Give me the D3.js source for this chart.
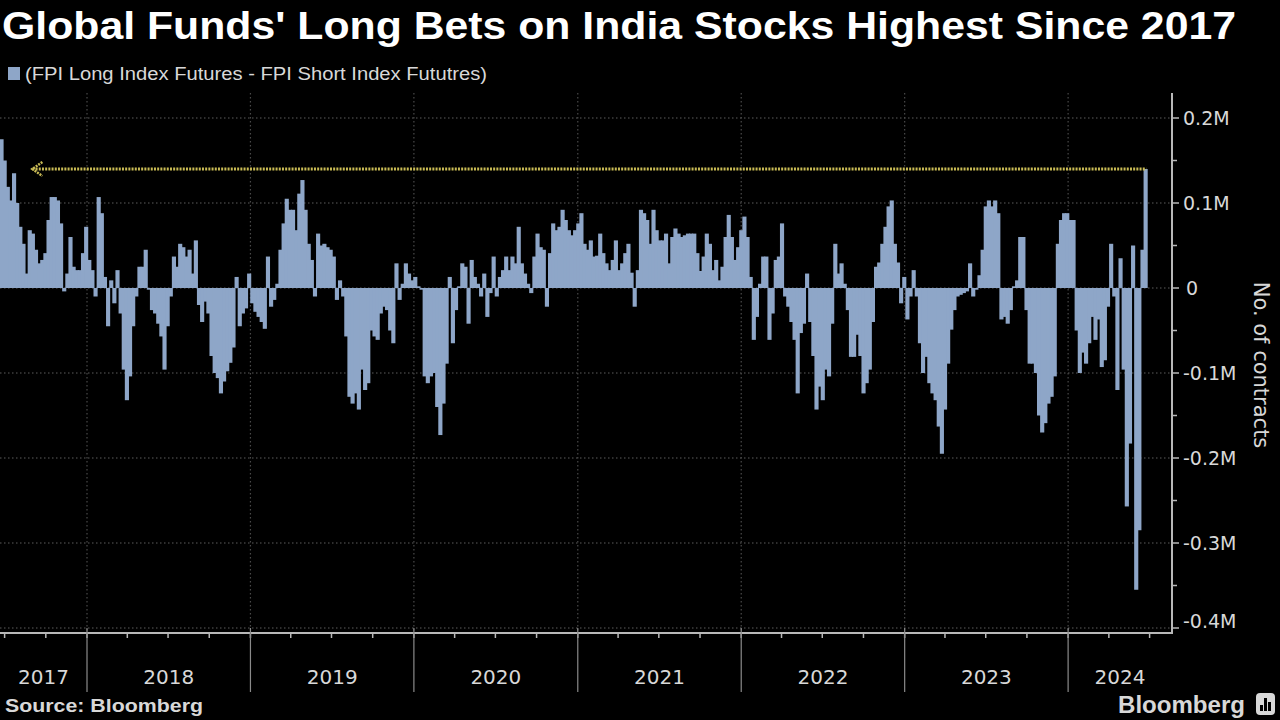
<!DOCTYPE html>
<html>
<head>
<meta charset="utf-8">
<script src="https://cdn.jsdelivr.net/npm/d3@7"></script>
<style>
  html, body { margin: 0; padding: 0; background: #000; }
  svg { display: block; }
</style>
</head>
<body>
<svg id="chart" width="1280" height="720"></svg>
<script>
// ---------------- DATA ----------------
const titleText = "Global Funds' Long Bets on India Stocks Highest Since 2017";
const legendText = "(FPI Long Index Futures - FPI Short Index Fututres)";
const sourceText = "Source: Bloomberg";
const axisTitle = "No. of contracts";
const firstWeek = "2017-06-23";          // weekly (Friday) observations start
const yearLabels = ["2017","2018","2019","2020","2021","2022","2023","2024"];
const yTickValues = [-400, -300, -200, -100, 0, 100, 200];   // thousands of contracts
const annotationStart = "2017-09-01";     // start of the "highest since" arrow
// Net FPI index futures position, thousands of contracts, one value per week
const netLong = [
  175,150,119,103,135,100,72,52,17,68,
  64,45,29,33,41,80,107,107,103,76,
  -4,17,60,25,21,21,41,72,33,21,
  -10,107,88,13,-45,9,-18,21,-30,-96,
  -132,-104,-45,-10,25,25,45,-2,-26,-30,
  -42,-57,-96,-45,-10,37,25,52,48,37,
  45,17,56,-20,
  -40,-16,-30,-80,-100,-106,-124,-110,-98,-88,
  -70,13,-45,-30,-24,17,-18,-28,-34,-40,
  -48,37,-22,-14,5,45,76,105,92,92,
  68,111,127,92,52,33,-10,64,50,52,
  48,45,37,-14,9,-10,-57,-128,-136,-124,
  -143,-96,-120,-112,-50,-57,-61,-30,-22,-26,
  -50,-65,
  29,-14,5,29,17,9,13,2,-2,-104,
  -112,-104,-100,-140,-173,-136,-89,13,-65,-26,
  2,29,25,-42,33,13,5,-10,17,-34,
  -6,37,-10,13,21,37,21,37,29,72,
  29,17,5,-6,37,64,48,45,-22,41,
  76,68,72,92,80,68,62,68,76,88,
  52,45,
  56,37,38,64,41,29,21,33,56,21,
  29,41,52,18,-22,21,92,88,80,52,
  92,68,56,56,64,29,60,70,64,60,
  62,64,64,64,41,20,37,64,52,21,
  33,9,25,60,86,60,33,48,68,84,
  60,13,-61,-34,5,37,37,-61,-30,33,
  37,76,
  -10,-22,-40,-61,-124,-53,-42,17,-40,-80,
  -143,-116,-132,-96,-104,-42,52,17,29,5,
  -26,-81,-81,-55,-80,-124,-112,-96,-40,25,
  30,52,72,96,103,52,30,-18,13,-37,
  -10,21,-10,-65,-100,-81,-112,-124,-132,-163,
  -195,-143,-89,-49,-26,-10,-8,-6,-4,29,
  -10,-2,15,
  45,96,103,96,103,88,-37,-34,-42,
  -26,2,9,60,60,-26,-89,-89,-100,-150,
  -170,-159,-136,-128,-104,52,80,88,88,80,
  80,-50,-100,-76,-89,-65,-34,-61,-37,-93,
  -85,-22,52,-10,-120,35,-96,-257,-183,50,
  -355,-285,45,140
];

// ---------------- LAYOUT ----------------
const W = 1280, H = 720;
const plotLeft = 0, plotRight = 1172, plotTop = 93, axisY = 633;
const barColor = "#8ea6c8";
const textColor = "#d8d8d8";
const annColor = "#c9bb55";

const svg = d3.select("#chart");
svg.append("rect").attr("width", W).attr("height", H).attr("fill", "#000");

const parse = d3.utcParse("%Y-%m-%d");
const start = parse(firstWeek);
const data = netLong.map((v, i) => ({ date: d3.utcDay.offset(start, 7 * i), value: v }));

const x = d3.scaleUtc()
  .domain([new Date(Date.UTC(2017, 5, 20, 17)), new Date(Date.UTC(2024, 7, 20))])
  .range([plotLeft, plotRight]);
const y = d3.scaleLinear().domain([-400, 200]).range([628, 118]);

// clip
svg.append("clipPath").attr("id", "plotclip")
  .append("rect").attr("x", plotLeft).attr("y", plotTop)
  .attr("width", plotRight - plotLeft - 1).attr("height", axisY - plotTop);

// gridlines
const grid = svg.append("g");
grid.selectAll("line.h").data(yTickValues).join("line")
  .attr("x1", plotLeft).attr("x2", plotRight - 2)
  .attr("y1", d => y(d)).attr("y2", d => y(d))
  .attr("stroke", "#5c5c5c").attr("stroke-width", 1.2).attr("stroke-dasharray", "1.5,2.5");
const yearStarts = yearLabels.slice(1).map(yr => new Date(Date.UTC(+yr, 0, 1)));
grid.selectAll("line.v").data(yearStarts).join("line")
  .attr("x1", d => x(d)).attr("x2", d => x(d))
  .attr("y1", plotTop).attr("y2", axisY)
  .attr("stroke", "#4a4a4a").attr("stroke-width", 1.2).attr("stroke-dasharray", "1.5,2.5");

// bars
const bw = x(d3.utcDay.offset(start, 7)) - x(start);
svg.append("g").attr("clip-path", "url(#plotclip)")
  .selectAll("rect").data(data).join("rect")
  .attr("x", d => x(d.date) - bw / 2)
  .attr("width", bw + 1)
  .attr("y", d => Math.min(y(d.value), y(0)))
  .attr("height", d => Math.abs(y(d.value) - y(0)))
  .attr("fill", barColor);

// annotation: dotted line at latest value back to 2017
const last = data[data.length - 1];
const annY = y(last.value);
const annX0 = x(parse(annotationStart));
svg.append("line")
  .attr("x1", annX0).attr("x2", x(last.date) + bw / 2 - 0.5)
  .attr("y1", annY).attr("y2", annY)
  .attr("stroke", annColor).attr("stroke-width", 3).attr("stroke-dasharray", "2,1.2");
svg.append("path")
  .attr("d", `M${annX0 + 10},${annY - 7} L${annX0},${annY} L${annX0 + 10},${annY + 7}`)
  .attr("fill", "none").attr("stroke", annColor).attr("stroke-width", 2.5)
  .attr("stroke-dasharray", "2,1");

// right axis
const ra = svg.append("g");
ra.append("line").attr("x1", plotRight).attr("x2", plotRight)
  .attr("y1", plotTop).attr("y2", axisY + 1)
  .attr("stroke", "#b8b8b8").attr("stroke-width", 2);
const minorY = d3.range(-400, 201, 50);
ra.selectAll("line.t").data(minorY).join("line")
  .attr("x1", plotRight).attr("x2", d => plotRight + (d % 100 === 0 ? 7 : 5))
  .attr("y1", d => y(d)).attr("y2", d => y(d))
  .attr("stroke", "#b8b8b8").attr("stroke-width", 1.5);
const fmt = v => v === 0 ? "0" : (v / 1000) + "M";
ra.selectAll("text").data(yTickValues).join("text")
  .attr("x", d => d === 0 ? plotRight + 14 : plotRight + 11)
  .attr("y", d => d === -400 ? y(d) - 7 : y(d))
  .attr("dominant-baseline", "central")
  .attr("font-family", "DejaVu Sans, sans-serif").attr("font-size", 19)
  .attr("fill", textColor)
  .text(fmt);
svg.append("text")
  .attr("transform", "translate(1261,365) rotate(90)")
  .attr("text-anchor", "middle").attr("dominant-baseline", "central")
  .attr("font-family", "DejaVu Sans, sans-serif").attr("font-size", 21)
  .attr("fill", textColor).text(axisTitle);

// bottom axis
const ba = svg.append("g");
ba.append("line").attr("x1", plotLeft).attr("x2", plotRight + 1)
  .attr("y1", axisY).attr("y2", axisY)
  .attr("stroke", "#b8b8b8").attr("stroke-width", 2);
const quarters = d3.utcMonth.every(3).range(x.domain()[0], x.domain()[1]);
ba.selectAll("line.q").data(quarters).join("line")
  .attr("x1", d => x(d)).attr("x2", d => x(d))
  .attr("y1", axisY).attr("y2", axisY + 5)
  .attr("stroke", "#b8b8b8").attr("stroke-width", 1.5);
ba.selectAll("line.y").data(yearStarts).join("line")
  .attr("x1", d => x(d)).attr("x2", d => x(d))
  .attr("y1", axisY - 5).attr("y2", 692)
  .attr("stroke", "#8a8a8a").attr("stroke-width", 1.2);
ba.selectAll("text").data(yearLabels).join("text")
  .attr("x", yr => {
    const a = Math.max(x(new Date(Date.UTC(+yr, 0, 1))), plotLeft);
    const b = Math.min(x(new Date(Date.UTC(+yr + 1, 0, 1))), plotRight);
    return (a + b) / 2;
  })
  .attr("y", 677).attr("text-anchor", "middle").attr("dominant-baseline", "central")
  .attr("font-family", "DejaVu Sans, sans-serif").attr("font-size", 20)
  .attr("fill", textColor).text(d => d);

// title & legend
svg.append("text").attr("x", 2).attr("y", 39)
  .attr("font-family", "Liberation Sans, Arial, sans-serif").attr("font-weight", "bold")
  .attr("font-size", 38).attr("fill", "#ffffff")
  .attr("textLength", 1234).attr("lengthAdjust", "spacingAndGlyphs")
  .text(titleText);
svg.append("rect").attr("x", 8).attr("y", 67).attr("width", 12).attr("height", 13).attr("fill", barColor);
svg.append("text").attr("x", 25).attr("y", 74)
  .attr("dominant-baseline", "central")
  .attr("font-family", "Liberation Sans, Arial, sans-serif").attr("font-size", 18)
  .attr("fill", textColor)
  .attr("textLength", 462).attr("lengthAdjust", "spacingAndGlyphs")
  .text(legendText);

// footer
svg.append("text").attr("x", 5).attr("y", 706).attr("dominant-baseline", "central")
  .attr("font-family", "Liberation Sans, Arial, sans-serif").attr("font-weight", "bold")
  .attr("font-size", 18).attr("fill", textColor)
  .attr("textLength", 198).attr("lengthAdjust", "spacingAndGlyphs")
  .text(sourceText);
svg.append("text").attr("x", 1118).attr("y", 704).attr("dominant-baseline", "central")
  .attr("font-family", "Liberation Sans, Arial, sans-serif").attr("font-weight", "bold")
  .attr("font-size", 24).attr("fill", textColor)
  .attr("textLength", 127).attr("lengthAdjust", "spacingAndGlyphs")
  .text("Bloomberg");
const logo = svg.append("g").attr("transform", "translate(1256,693)");
logo.append("rect").attr("width", 19).attr("height", 22).attr("rx", 4).attr("fill", textColor);
logo.append("rect").attr("x", 4).attr("y", 12).attr("width", 3).attr("height", 6).attr("fill", "#000");
logo.append("rect").attr("x", 8).attr("y", 5).attr("width", 3).attr("height", 13).attr("fill", "#000");
logo.append("rect").attr("x", 12).attr("y", 9).attr("width", 3).attr("height", 9).attr("fill", "#000");
</script>
</body>
</html>
